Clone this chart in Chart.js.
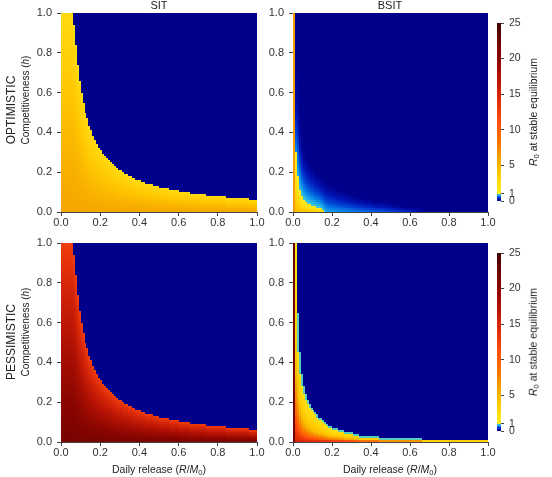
<!DOCTYPE html>
<html>
<head>
<meta charset="utf-8">
<title>R0 at stable equilibrium: SIT vs BSIT</title>
<script src="https://cdn.jsdelivr.net/npm/chart.js"></script>
<style>
  body { margin: 0; background: #fff; }
  #fig { position: relative; width: 552px; height: 477px; overflow: hidden;
         font-family: "Liberation Sans", Arial, sans-serif; color: #222; }
  #fig canvas { position: absolute; }
  .lbl { position: absolute; white-space: nowrap; line-height: 1; transform: translate(-50%, -50%); }
  .rot { transform: translate(-50%, -50%) rotate(-90deg); }
  sub { font-size: 0.72em; vertical-align: -0.3em; line-height: 0; }
</style>
</head>
<body>
<div id="fig">
  <canvas id="sitOpt" width="270" height="232" style="left:0;top:0"></canvas>
  <canvas id="bsitOpt" width="250" height="232" style="left:253px;top:0"></canvas>
  <canvas id="cbarTop" width="50" height="232" style="left:485px;top:0"></canvas>
  <canvas id="sitPes" width="270" height="232" style="left:0;top:230px"></canvas>
  <canvas id="bsitPes" width="250" height="232" style="left:253px;top:230px"></canvas>
  <canvas id="cbarBottom" width="50" height="232" style="left:485px;top:230px"></canvas>

  <div class="lbl" style="left:159px;top:5px;font-size:11px">SIT</div>
  <div class="lbl" style="left:390px;top:5px;font-size:11px">BSIT</div>

  <div class="lbl rot" style="left:11px;top:110px;font-size:12px">OPTIMISTIC</div>
  <div class="lbl rot" style="left:26px;top:100px;font-size:10px">Competitiveness (<i>h</i>)</div>
  <div class="lbl rot" style="left:11px;top:342px;font-size:12px">PESSIMISTIC</div>
  <div class="lbl rot" style="left:26px;top:332px;font-size:10px">Competitiveness (<i>h</i>)</div>

  <div class="lbl" style="left:159px;top:469px;font-size:10.5px">Daily release (<i>R</i>/<i>M</i><sub>0</sub>)</div>
  <div class="lbl" style="left:390px;top:469px;font-size:10.5px">Daily release (<i>R</i>/<i>M</i><sub>0</sub>)</div>

  <div class="lbl rot" style="left:533px;top:112px;font-size:10.5px"><i>R</i><sub>0</sub> at stable equilibrium</div>
  <div class="lbl rot" style="left:533px;top:342px;font-size:10.5px"><i>R</i><sub>0</sub> at stable equilibrium</div>
</div>

<script>
// tick labels
const releaseTicks = [0, 0.2, 0.4, 0.6, 0.8, 1.0];
const competitivenessTicks = [0, 0.2, 0.4, 0.6, 0.8, 1.0];
const r0Ticks = [0, 1, 5, 10, 15, 20, 25];

// simulation grid: 100 release steps x 100 competitiveness steps
const gridSize = 100;

// SIT: rows (of 100) that keep a population, per release column (same in both scenarios)
const sitEdge = [
  100,100,100,100,100,100,94,84,74,66, 60,55,50,47,43,41,38,36,34,32,
  31,29,28,27,26,25,24,23,22,21, 21,20,19,19,18,18,17,17,16,16,
  16,15,15,14,14,14,14,13,13,13, 12,12,12,12,12,11,11,11,11,11,
  10,10,10,10,10,10,9,9,9,9, 9,9,9,9,8,8,8,8,8,8,
  8,8,8,8,7,7,7,7,7,7, 7,7,7,7,7,7,6,6,6,6
];

// BSIT optimistic: rows with R0 >= 1, and rows with R0 > 0
const bsitOptYellow = [
  100,30,18,11,8,6,5,4,4,3, 3,3,2,2,2,1,0,0,0,0,
  0,0,0,0,0,0,0,0,0,0, 0,0,0,0,0,0,0,0,0,0,
  0,0,0,0,0,0,0,0,0,0, 0,0,0,0,0,0,0,0,0,0,
  0,0,0,0,0,0,0,0,0,0, 0,0,0,0,0,0,0,0,0,0,
  0,0,0,0,0,0,0,0,0,0, 0,0,0,0,0,0,0,0,0,0
];
const bsitOptFade = [
  100,70,48,38,32,28,26,24,22,21, 20,19,18,17,16,15,14,13,13,12,
  12,11,11,10,10,10,9,9,9,8, 8,8,7,7,7,7,6,6,6,6,
  6,5,5,5,5,5,5,5,4,4, 4,4,3,3,3,3,2,2,2,2,
  2,2,2,2,2,2,0,0,0,0, 0,0,0,0,0,0,0,0,0,0,
  0,0,0,0,0,0,0,0,0,0, 0,0,0,0,0,0,0,0,0,0
];
// BSIT optimistic: R0 on the bottom row where it stays below 1, at release 0, 0.1, ... 1.0
const bsitOptFloorR0 = [1.0, 0.95, 0.85, 0.75, 0.65, 0.55, 0.45, 0, 0, 0, 0];

// BSIT pessimistic: rows that keep a population
const bsitPesEdge = [
  100,100,65,45,34,28,24,21,19,17, 16,15,14,12,12,11,10,9,8,8,
  7,7,7,6,6,6,5,5,5,5, 5,4,4,4,3,3,3,3,3,3,
  3,3,3,3,2,2,2,2,2,2, 2,2,2,2,2,2,2,2,2,2,
  2,2,2,2,2,2,1,1,1,1, 1,1,1,1,1,1,1,1,1,1,
  1,1,1,1,1,1,1,1,1,1, 1,1,1,1,1,1,1,1,1,1
];

// R0 read up a column, from h = 0 (first) to the boundary (last)
const sitOptProfile = [6.0, 5.5, 5.0, 4.4, 3.8, 3.2, 2.6];
const sitPesProfile = [21.5, 20.3, 19.0, 17.5, 16.0, 14.4, 12.5];
const bsitOptProfile = [4.8, 3.6, 2.8, 2.2, 1.8, 1.5, 1.2];
const bsitPesProfile = [15, 8.5, 5, 3.6, 2.9, 2.4, 2];
const bsitFadeProfile = [0.95, 0.8, 0.62, 0.45, 0.3, 0.17, 0.05];
// R0 on the boundary rim, and with no release (optimistic, pessimistic)
const rimR0 = 0.95;
const baselineR0 = [6.5, 22];

// colour scale of the colour bar
const cmapStops = [0, 0.25, 0.5, 0.75, 0.9, 1.0, 1.05, 2, 4, 6, 8, 11, 14, 17, 20, 25];
const cmapRgb = [[0,0,139],[0,20,180],[0,70,215],[10,140,235],[50,190,230],[120,215,150],
  [250,235,40],[255,228,20],[255,200,0],[245,165,0],[250,120,0],[255,80,10],
  [225,45,10],[185,20,5],[140,5,0],[70,0,0]];

function colorFor(v) {
  let k = 0;
  while (k < cmapStops.length - 2 && v > cmapStops[k + 1]) k++;
  const f = Math.min(1, Math.max(0, (v - cmapStops[k]) / (cmapStops[k + 1] - cmapStops[k])));
  const a = cmapRgb[k], b = cmapRgb[k + 1];
  return 'rgb(' + a.map((c, j) => Math.round(c + (b[j] - c) * f)).join(',') + ')';
}

function lookup(profile, t) {
  const p = Math.min(Math.max(t, 0), 1) * (profile.length - 1);
  const k = Math.min(Math.floor(p), profile.length - 2);
  const f = p - k;
  return profile[k] * (1 - f) + profile[k + 1] * f;
}

function makeCells(valueAt) {
  const cells = [];
  for (let i = 0; i < gridSize; i++) {
    for (let r = 0; r < gridSize; r++) {
      cells.push({
        x: (i + 0.5) / gridSize, y: (r + 0.5) / gridSize,
        x0: i / gridSize, x1: (i + 1) / gridSize,
        y0: r / gridSize, y1: (r + 1) / gridSize,
        v: valueAt(i, r)
      });
    }
  }
  return cells;
}

const sitOptCells = makeCells((i, r) => r < sitEdge[i] ? lookup(sitOptProfile, (r + 0.5) / sitEdge[i]) : 0);
const sitPesCells = makeCells((i, r) => r < sitEdge[i] ? lookup(sitPesProfile, (r + 0.5) / sitEdge[i]) : 0);

// BSIT optimistic: yellow core, then R0 < 1 fading out to 0
function bsitOptRaw(i, r) {
  const y = bsitOptYellow[i], f = bsitOptFade[i];
  if (i === 0) return baselineR0[0];
  if (r < y) return lookup(bsitOptProfile, (r + 0.5) / y);
  if (r < f) {
    const start = y > 0 ? 1 : lookup(bsitOptFloorR0, (i + 0.5) / gridSize);
    return start * lookup(bsitFadeProfile, (r - y + 0.5) / (f - y));
  }
  return 0;
}
const bsitOptCells = makeCells((i, r) => {
  const v = bsitOptRaw(i, r);
  if (v >= 1) return v;
  // soften the fade sideways (below-1 part only)
  let sum = 0, n = 0;
  for (let di = -1; di <= 1; di++) {
    const ii = i + di;
    if (ii < 1 || ii >= gridSize) continue;
    sum += Math.min(bsitOptRaw(ii, r), 0.95); n++;
  }
  return Math.min(sum / n, 0.95);
});

const bsitPesCells = makeCells((i, r) => {
  const e = bsitPesEdge[i];
  const next = i + 1 < gridSize ? bsitPesEdge[i + 1] : e;
  if (i === 0) return baselineR0[1];
  if (r >= e) return 0;
  // thin rim where the population is about to collapse
  if (e > 1 && e < 100 && (r === e - 1 || r >= next)) return rimR0;
  return lookup(bsitPesProfile, (r + 0.5) / e);
});

// colour bar: one column of cells running 0..25
const colorbarCells = [];
for (let k = 0; k < 100; k++) {
  colorbarCells.push({ x: 0.5, y: (k + 0.5) * 0.25, x0: 0, x1: 1, y0: k * 0.25, y1: (k + 1) * 0.25, v: (k + 0.5) * 0.25 });
}

// draws each cell as a rectangle placed by the chart's scales
const heatmap = {
  id: 'heatmap',
  beforeDatasetsDraw(chart) {
    const { ctx, chartArea: a, scales: { x, y } } = chart;
    ctx.save();
    ctx.beginPath();
    ctx.rect(a.left, a.top, a.right - a.left, a.bottom - a.top);
    ctx.clip();
    chart.data.datasets[0].data.forEach(c => {
      const px0 = Math.round(x.getPixelForValue(c.x0)), px1 = Math.round(x.getPixelForValue(c.x1));
      const py0 = Math.round(y.getPixelForValue(c.y1)), py1 = Math.round(y.getPixelForValue(c.y0));
      ctx.fillStyle = colorFor(c.v);
      ctx.fillRect(px0, py0, px1 - px0, py1 - py0);
    });
    ctx.restore();
  }
};

const tickFont = { family: '"Liberation Sans", Arial, sans-serif', size: 11 };

function panelChart(id, cells, padding) {
  return new Chart(document.getElementById(id), {
    type: 'scatter',
    data: { datasets: [{ data: cells, pointRadius: 0, pointHoverRadius: 0 }] },
    options: {
      responsive: false, animation: false, devicePixelRatio: 1, events: [],
      layout: { padding },
      plugins: { legend: { display: false }, tooltip: { enabled: false } },
      scales: {
        x: {
          type: 'linear', min: 0, max: 1, z: 1,
          afterBuildTicks: s => { s.ticks = releaseTicks.map(v => ({ value: v })); },
          afterFit: s => { s.height = 20; },
          ticks: { callback: v => v.toFixed(1), font: tickFont, color: '#333', padding: 0, maxRotation: 0, autoSkip: false },
          grid: { drawOnChartArea: false, tickLength: 4, color: '#444' },
          border: { color: '#444' }
        },
        y: {
          type: 'linear', min: 0, max: 1, z: 1,
          afterBuildTicks: s => { s.ticks = competitivenessTicks.map(v => ({ value: v })); },
          afterFit: s => { s.width = 40; },
          ticks: { callback: v => v.toFixed(1), font: tickFont, color: '#333', padding: 5, autoSkip: false },
          grid: { drawOnChartArea: false, tickLength: 4, color: '#444' },
          border: { color: '#444' }
        }
      }
    },
    plugins: [heatmap]
  });
}

function colorbarChart(id) {
  return new Chart(document.getElementById(id), {
    type: 'scatter',
    data: { datasets: [{ data: colorbarCells, pointRadius: 0, pointHoverRadius: 0 }] },
    options: {
      responsive: false, animation: false, devicePixelRatio: 1, events: [],
      layout: { padding: { left: 12, right: 14, top: 23, bottom: 31 } },
      plugins: { legend: { display: false }, tooltip: { enabled: false } },
      scales: {
        x: { type: 'linear', min: 0, max: 1, display: false },
        y: {
          type: 'linear', position: 'right', min: 0, max: 25, z: 1,
          afterBuildTicks: s => { s.ticks = r0Ticks.map(v => ({ value: v })); },
          afterFit: s => { s.width = 20; },
          ticks: { font: { ...tickFont, size: 10.5 }, color: '#333', padding: 5, autoSkip: false },
          grid: { drawOnChartArea: false, tickLength: 3, color: '#444' },
          border: { display: false }
        }
      }
    },
    plugins: [heatmap]
  });
}

panelChart('sitOpt', sitOptCells, { left: 21, right: 13, top: 13, bottom: 0 });
panelChart('bsitOpt', bsitOptCells, { left: 0, right: 15, top: 13, bottom: 0 });
panelChart('sitPes', sitPesCells, { left: 21, right: 13, top: 13, bottom: 0 });
panelChart('bsitPes', bsitPesCells, { left: 0, right: 15, top: 13, bottom: 0 });
colorbarChart('cbarTop');
colorbarChart('cbarBottom');
</script>
</body>
</html>
